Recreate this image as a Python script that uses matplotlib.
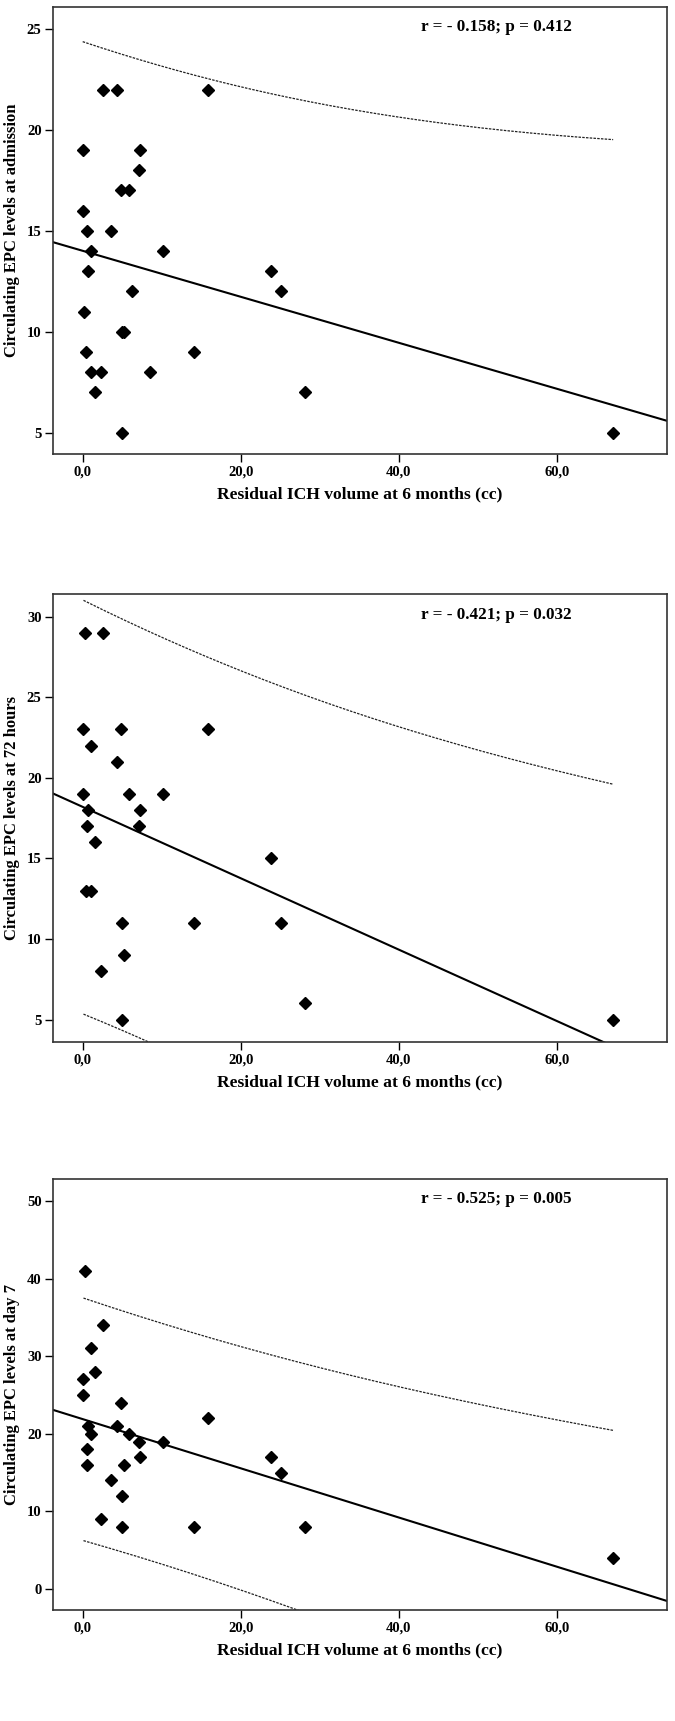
import matplotlib.pyplot as plt
import numpy as np

plt.rcParams['font.family'] = ['Liberation Serif', 'DejaVu Serif']
plt.rcParams['font.weight'] = 'bold'

# residual ICH volume (cc) and EPC levels
vol_adm = [2.6, 4.3, 15.9, 0.1, 7.3, 7.1, 4.8, 5.9, 0.0, 0.6, 3.6, 1.1, 10.1, 0.7,
           23.8, 25.1, 6.2, 0.2, 5.0, 5.2, 0.4, 14.1, 1.1, 2.3, 8.5, 1.5, 28.1, 5.0, 67.1]
epc_adm = [22, 22, 22, 19, 19, 18, 17, 17, 16, 15, 15, 14, 14, 13,
           13, 12, 12, 11, 10, 10, 9, 9, 8, 8, 8, 7, 7, 5, 5]

vol_72h = [0.3, 2.6, 0.1, 4.8, 15.9, 1.0, 4.3, 0.1, 5.9, 10.1, 0.7, 7.3, 0.6,
           7.1, 1.5, 23.8, 0.4, 1.1, 5.0, 14.1, 25.1, 5.2, 2.3, 28.1, 5.0, 67.1]
epc_72h = [29, 29, 23, 23, 23, 22, 21, 19, 19, 19, 18, 18, 17,
           17, 16, 15, 13, 13, 11, 11, 11, 9, 8, 6, 5, 5]

vol_d7 = [0.3, 2.6, 1.1, 1.5, 0.1, 0.1, 4.8, 15.9, 0.7, 4.3, 1.1, 5.9, 7.1, 10.1,
          0.5, 7.3, 23.8, 0.6, 5.2, 25.1, 3.6, 5.0, 2.3, 5.0, 14.1, 28.1, 67.1]
epc_d7 = [41, 34, 31, 28, 27, 25, 24, 22, 21, 21, 20, 20, 19, 19,
          18, 17, 17, 16, 16, 15, 14, 12, 9, 8, 8, 8, 4]

ylabels = ["Circulating EPC levels at admission",
           "Circulating EPC levels at 72 hours",
           "Circulating EPC levels at day 7"]
stats = ["r = - 0.158; p = 0.412", "r = - 0.421; p = 0.032", "r = - 0.525; p = 0.005"]
yticks = [[5, 10, 15, 20, 25], [5, 10, 15, 20, 25, 30], [0, 10, 20, 30, 40, 50]]
ylims = [(3.95, 26.1), (3.6, 31.4), (-2.7, 52.8)]
xticks = [0, 20, 40, 60]
xlim = (-3.8, 73.9)

# two-sided 95% t quantiles by degrees of freedom
t95 = {23: 2.069, 24: 2.064, 25: 2.060, 26: 2.056, 27: 2.052}

fig = plt.figure(figsize=(6.75, 17.21), dpi=100)
boxes = [[0.078, 0.7362, 0.910, 0.2599],
         [0.078, 0.3945, 0.910, 0.2603],
         [0.078, 0.0645, 0.910, 0.2503]]

panels = [(vol_adm, epc_adm), (vol_72h, epc_72h), (vol_d7, epc_d7)]
for i, (xv, yv) in enumerate(panels):
    ax = fig.add_axes(boxes[i])
    x = np.array(xv, dtype=float)
    y = np.array(yv, dtype=float)
    n = len(x)
    b, a = np.polyfit(x, y, 1)
    resid = y - (a + b * x)
    s = np.sqrt(np.sum(resid ** 2) / (n - 2))
    sxx = np.sum((x - x.mean()) ** 2)

    xl = np.linspace(xlim[0], xlim[1], 200)
    ax.plot(xl, a + b * xl, color='black', lw=1.5)

    # 95% prediction interval for individual values
    xb = np.linspace(x.min(), x.max(), 200)
    half = t95[n - 2] * s * np.sqrt(1 + 1.0 / n + (xb - x.mean()) ** 2 / sxx)
    yh = a + b * xb
    ax.plot(xb, yh + half, color='#222222', lw=0.9, linestyle=(0, (2, 1)))
    ax.plot(xb, yh - half, color='#222222', lw=0.9, linestyle=(0, (2, 1)))

    ax.plot(x, y, 'D', color='black', markersize=6, linestyle='none')

    ax.set_xlim(*xlim)
    ax.set_ylim(*ylims[i])
    ax.set_xticks(xticks)
    ax.set_xticklabels(["%d,0" % v for v in xticks])
    ax.set_yticks(yticks[i])
    ax.tick_params(direction='out', length=6, width=1, pad=2, labelsize=10.5)
    for sp in ax.spines.values():
        sp.set_linewidth(1.2)
        sp.set_color('#333333')
    ax.set_xlabel("Residual ICH volume at 6 months (cc)", fontsize=12.6, fontweight='bold', labelpad=6)
    ax.set_ylabel(ylabels[i], fontsize=12, fontweight='bold', labelpad=5)
    ax.text(0.722, 0.972, stats[i], transform=ax.transAxes, ha='center', va='top',
            fontsize=12.3, fontweight='bold')

fig.savefig("out.png", dpi=100)
